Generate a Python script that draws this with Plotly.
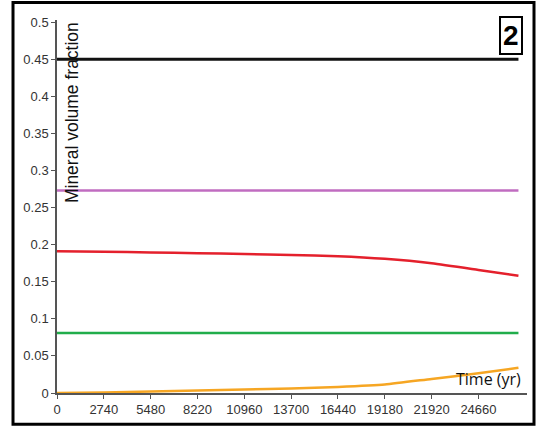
import plotly.graph_objects as go

# Simulation output: mineral volume fractions over time
time_yr = [0, 2740, 5480, 8220, 10960, 13700, 16440, 19180, 21920, 24660, 27000]
mineral_black = [0.45] * 11
mineral_purple = [0.273] * 11
mineral_red = [0.191, 0.1905, 0.1895, 0.1885, 0.1875, 0.1862, 0.1845, 0.181, 0.175, 0.166, 0.158]
mineral_green = [0.081] * 11
mineral_orange = [0.0, 0.0008, 0.002, 0.0033, 0.0047, 0.006, 0.0082, 0.0115, 0.019, 0.0265, 0.034]

x_ticks = [0, 2740, 5480, 8220, 10960, 13700, 16440, 19180, 21920, 24660]
x_ticktext = ["0", "2740", "5480", "8220", "10960", "13700", "16440", "19180", "21920", "24660"]
y_ticks = [0, 0.05, 0.1, 0.15, 0.2, 0.25, 0.3, 0.35, 0.4, 0.45, 0.5]
y_ticktext = ["0", "0.05", "0.1", "0.15", "0.2", "0.25", "0.3", "0.35", "0.4", "0.45", "0.5"]

series = [
    (mineral_black, "#111111", 3),
    (mineral_purple, "#c06cc0", 2.5),
    (mineral_red, "#e4202c", 2.5),
    (mineral_green, "#21ad4b", 2.5),
    (mineral_orange, "#f6a623", 2.5),
]

fig = go.Figure()
for values, color, width in series:
    fig.add_trace(go.Scatter(
        x=time_yr, y=values, mode="lines",
        line=dict(color=color, width=width, shape="spline", smoothing=0.6),
        showlegend=False, hoverinfo="skip",
    ))

axis_font = dict(family="Arial, Liberation Sans, sans-serif", size=13, color="#333333")

fig.update_xaxes(
    range=[0, 27500], tickvals=x_ticks, ticktext=x_ticktext, showline=True,
    linecolor="#555555", linewidth=1.5, ticks="outside", ticklen=4,
    tickcolor="#555555", showgrid=False, zeroline=False, tickfont=axis_font,
)
fig.update_yaxes(
    range=[0, 0.503], tickvals=y_ticks, ticktext=y_ticktext, showline=True,
    linecolor="#555555", linewidth=1.5, ticks="outside", ticklen=4,
    tickcolor="#555555", showgrid=False, zeroline=False, tickfont=axis_font,
)

fig.update_layout(
    width=536, height=426,
    margin=dict(l=57, r=9, t=20, b=33),
    paper_bgcolor="white", plot_bgcolor="white",
    shapes=[dict(
        type="rect", xref="paper", yref="paper",
        x0=-0.0936, x1=1.0149, y0=-0.0836, y1=1.0472,
        line=dict(color="#000000", width=3), layer="above",
    )],
    annotations=[
        dict(
            text="Mineral volume fraction", xref="paper", yref="paper",
            x=0.031, y=0.752, xanchor="center", yanchor="middle",
            textangle=-90, showarrow=False,
            font=dict(family="Arial, Liberation Sans, sans-serif", size=17.5, color="#111111"),
        ),
        dict(
            text="Time (yr)", xref="paper", yref="paper",
            x=(523 - 57) / 470, y=(393 - 392) / 373, xanchor="right", yanchor="bottom",
            showarrow=False,
            font=dict(family="Open Sans, sans-serif", size=16, color="#111111"),
        ),
        dict(
            text="<b>2</b>", xref="paper", yref="paper",
            x=(511 - 57) / 470, y=(393 - 35) / 373, xanchor="center", yanchor="middle",
            showarrow=False, bordercolor="#000000", borderwidth=2, borderpad=2,
            bgcolor="white",
            font=dict(family="Arial, Liberation Sans, sans-serif", size=28, color="#000000"),
        ),
    ],
)

fig.write_html("out.html")
